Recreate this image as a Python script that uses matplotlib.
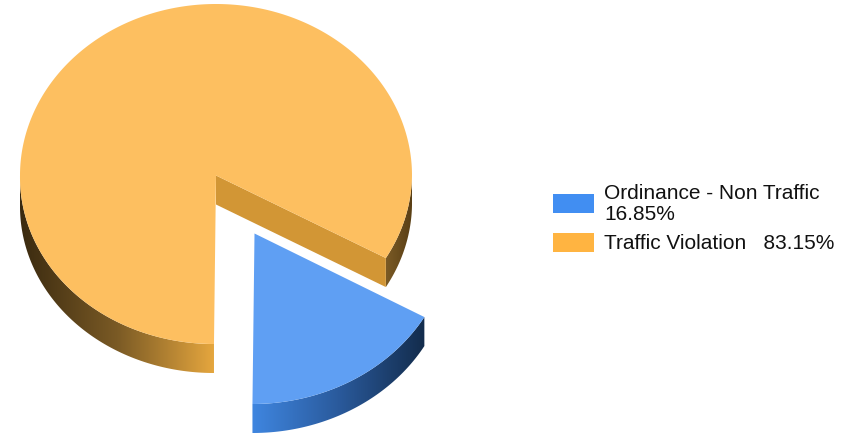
import numpy as np
import matplotlib
matplotlib.use('Agg')
import matplotlib.pyplot as plt
from matplotlib.patches import Polygon, Rectangle
from matplotlib.colors import LinearSegmentedColormap

labels = ['Ordinance - Non Traffic\n16.85%', 'Traffic Violation   83.15%']
values = [16.85, 83.15]
legend_colors = ['#418ef2', '#ffb441']
top_colors = ['#5f9ff3', '#fdbf60']
cut_color = '#d29635'

# pie geometry in pixels
cx, cy = 216, 176.5
rx = 196
ry_up, ry_down = 171.5, 168.5
ry_blue = 170.5
depth = 29
lean = 0.012  # the reference leans slightly towards the viewer
explode = (38.5, 58)

blue_sweep = values[0] / sum(values) * 360

fig = plt.figure(figsize=(8.54, 4.35), dpi=100)
ax = fig.add_axes([0, 0, 1, 1])
ax.set_xlim(0, 854)
ax.set_ylim(435, 0)
ax.axis('off')


def arc(x0, y0, a0, a1, n=200, low=ry_down):
    t = np.radians(np.linspace(a0, a1, n))
    s = np.sin(t)
    dy = np.where(s > 0, ry_up, low) * s
    y = y0 - dy
    x = x0 + rx * np.cos(t) + lean * np.minimum(dy, 0)
    return np.column_stack([x, y])


def side_wall(x0, y0, a0, a1, stops, xr, low=ry_down):
    # elliptical wall with a horizontal gradient clipped to it
    top = arc(x0, y0, a0, a1, low=low)
    bottom = top[::-1] + [0, depth]
    poly = Polygon(np.vstack([top, bottom]), closed=True, fc='none', ec='none')
    ax.add_patch(poly)
    cmap = LinearSegmentedColormap.from_list('wall', stops)
    im = ax.imshow(np.linspace(0, 1, 256)[None, :], cmap=cmap, aspect='auto',
                   extent=[xr[0], xr[1], 435, 0], zorder=2)
    im.set_clip_path(poly)


# orange slice runs from the end of the blue one all the way round to south
a_start = -90 + blue_sweep
a_end = 270

# walls
side_wall(cx, cy, 180, 270, ['#3a2a10', '#7a5a25', '#e5a63e'], (20, 214))
side_wall(cx, cy, a_start, 0, ['#7a5a25', '#5a3f15'], (386, 412))
# cut face of the orange slice
edge = arc(cx, cy, a_start, a_start, 2)[0]
ax.add_patch(Polygon([(cx, cy), edge, edge + [0, depth], (cx, cy + depth)],
                     closed=True, fc=cut_color, ec='none', zorder=3))
# orange top
ax.add_patch(Polygon(np.vstack([[(cx, cy)], arc(cx, cy, a_start, a_end, 600)]),
                     closed=True, fc=top_colors[1], ec='none', zorder=4))

# blue slice
bx, by = cx + explode[0], cy + explode[1]
side_wall(bx, by, -90, -90 + blue_sweep, ['#3f86e0', '#2a5a9c', '#132c4c'], (252, 425), low=ry_blue)
ax.add_patch(Polygon(np.vstack([[(bx, by)], arc(bx, by, -90, -90 + blue_sweep, low=ry_blue)]),
                     closed=True, fc=top_colors[0], ec='none', zorder=4))

ax.set_xlim(0, 854)
ax.set_ylim(435, 0)

# legend
swatch_y = [204.5, 243.5]
text_y = [204, 243.5]
for lab, col, sy, ty in zip(labels, legend_colors, swatch_y, text_y):
    ax.add_patch(Rectangle((553, sy - 9.5), 41, 19, fc=col, ec='none', zorder=5))
    ax.text(604, ty, lab, family='Liberation Sans', fontsize=15.05, color='#111111',
            va='center', ha='left', linespacing=1.17, zorder=5)

fig.savefig('out.png', dpi=100)
